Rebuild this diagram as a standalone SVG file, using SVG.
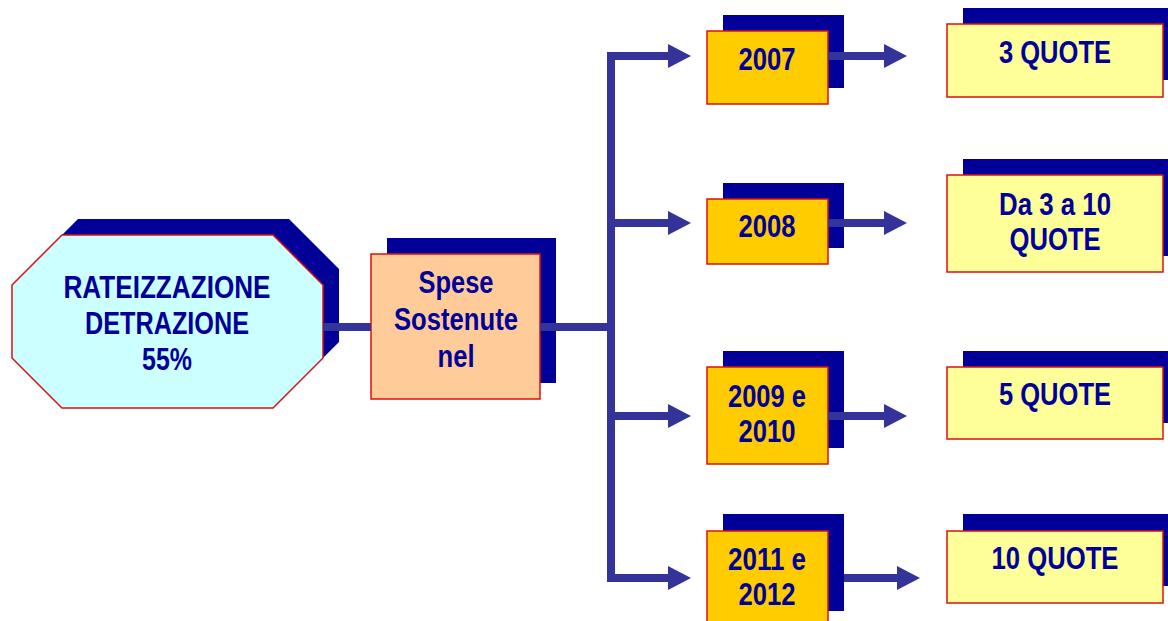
<svg xmlns="http://www.w3.org/2000/svg" width="1168" height="621" viewBox="0 0 1168 621">
<style>
.shadow{fill:#000099;}
.box{stroke:#DD1111;stroke-width:1.5;}
.oct{fill:#CCFFFF;}
.spese{fill:#FFCC99;}
.year{fill:#FFCC00;}
.quote{fill:#FFFF99;}
.t{font-family:"Liberation Sans",Arial,sans-serif;font-weight:bold;font-size:31px;fill:#000099;text-anchor:middle;}
.c{fill:none;stroke:#333399;stroke-width:8;stroke-linejoin:miter;}
</style>
<defs>
<marker id="ah" viewBox="0 0 23 24" markerWidth="23" markerHeight="24" refX="0" refY="12" orient="auto" markerUnits="userSpaceOnUse">
<path d="M0,0 L23,12 L0,24 z" fill="#333399"/>
</marker>
</defs>
<rect width="1168" height="621" fill="#FFFFFF"/>

<g id="node-rateizzazione">
<polygon class="shadow" points="78,219 289,219 339,269 339,342 289,392 78,392 28,342 28,269"/>
<polygon class="box oct" points="62,235 273,235 323,285 323,358 273,408 62,408 12,358 12,285"/>
<text class="t" x="167" y="298" textLength="207" lengthAdjust="spacingAndGlyphs">RATEIZZAZIONE</text>
<text class="t" x="167" y="334" textLength="164" lengthAdjust="spacingAndGlyphs">DETRAZIONE</text>
<text class="t" x="167" y="370" textLength="50" lengthAdjust="spacingAndGlyphs">55%</text>
</g>

<g id="node-spese">
<rect class="shadow" x="387" y="238" width="169" height="145"/>
<rect class="box spese" x="371" y="254" width="169" height="145"/>
<text class="t" x="456" y="293" textLength="75" lengthAdjust="spacingAndGlyphs">Spese</text>
<text class="t" x="456" y="330" textLength="124" lengthAdjust="spacingAndGlyphs">Sostenute</text>
<text class="t" x="456" y="367" textLength="37" lengthAdjust="spacingAndGlyphs">nel</text>
</g>

<g id="node-2007">
<rect class="shadow" x="723" y="15" width="121" height="73"/>
<rect class="box year" x="707" y="31" width="121" height="73"/>
<text class="t" x="767" y="70" textLength="57" lengthAdjust="spacingAndGlyphs">2007</text>
</g>

<g id="node-2008">
<rect class="shadow" x="723" y="183" width="121" height="65"/>
<rect class="box year" x="707" y="199" width="121" height="65"/>
<text class="t" x="767" y="237" textLength="57" lengthAdjust="spacingAndGlyphs">2008</text>
</g>

<g id="node-2009">
<rect class="shadow" x="723" y="351" width="121" height="97"/>
<rect class="box year" x="707" y="367" width="121" height="97"/>
<text class="t" x="767" y="407" textLength="78" lengthAdjust="spacingAndGlyphs">2009 e</text>
<text class="t" x="767" y="442" textLength="57" lengthAdjust="spacingAndGlyphs">2010</text>
</g>

<g id="node-2011">
<rect class="shadow" x="723" y="514" width="121" height="97"/>
<rect class="box year" x="707" y="531" width="121" height="97"/>
<text class="t" x="767" y="570" textLength="78" lengthAdjust="spacingAndGlyphs">2011 e</text>
<text class="t" x="767" y="605" textLength="57" lengthAdjust="spacingAndGlyphs">2012</text>
</g>

<g id="node-3quote">
<rect class="shadow" x="963" y="8" width="216" height="72"/>
<rect class="box quote" x="947" y="24" width="216" height="73"/>
<text class="t" x="1055" y="63" textLength="112" lengthAdjust="spacingAndGlyphs">3 QUOTE</text>
</g>

<g id="node-3a10quote">
<rect class="shadow" x="963" y="159" width="216" height="97"/>
<rect class="box quote" x="947" y="175" width="216" height="97"/>
<text class="t" x="1055" y="215" textLength="112" lengthAdjust="spacingAndGlyphs">Da 3 a 10</text>
<text class="t" x="1055" y="250" textLength="91" lengthAdjust="spacingAndGlyphs">QUOTE</text>
</g>

<g id="node-5quote">
<rect class="shadow" x="963" y="351" width="216" height="72"/>
<rect class="box quote" x="947" y="367" width="216" height="72"/>
<text class="t" x="1055" y="405" textLength="112" lengthAdjust="spacingAndGlyphs">5 QUOTE</text>
</g>

<g id="node-10quote">
<rect class="shadow" x="963" y="514" width="216" height="72"/>
<rect class="box quote" x="947" y="531" width="216" height="72"/>
<text class="t" x="1055" y="569" textLength="127" lengthAdjust="spacingAndGlyphs">10 QUOTE</text>
</g>

<g id="connectors">
<path class="c" d="M323,327 H371"/>
<path class="c" d="M540,327 H611"/>
<path class="c" d="M611,330 V56 H668" marker-end="url(#ah)"/>
<path class="c" d="M611,320 V578 H668" marker-end="url(#ah)"/>
<path class="c" d="M611,223 H668" marker-end="url(#ah)"/>
<path class="c" d="M611,416 H668" marker-end="url(#ah)"/>
<path class="c" d="M828,56 H884" marker-end="url(#ah)"/>
<path class="c" d="M828,223 H884" marker-end="url(#ah)"/>
<path class="c" d="M828,416 H884" marker-end="url(#ah)"/>
<path class="c" d="M844,578 H897" marker-end="url(#ah)"/>
</g>
</svg>
